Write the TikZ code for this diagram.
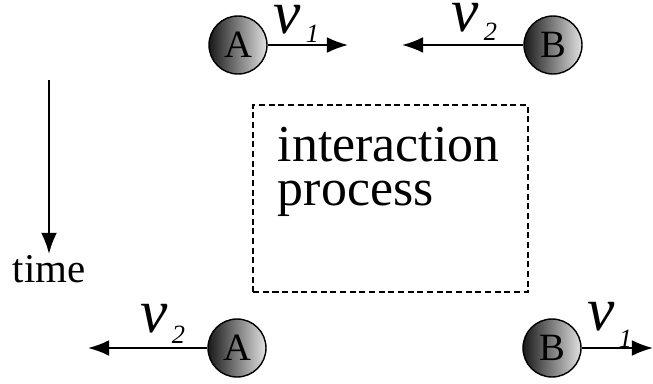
\documentclass[tikz,border=0pt]{standalone}
\usepackage{fontspec}
\setmainfont{Liberation Serif}
\usetikzlibrary{arrows.meta, positioning, calc}

\begin{document}
\begin{tikzpicture}[
    x=0.02cm, y=-0.02cm, >={Latex[length=12pt,width=9pt]}, line width=1.1pt,
    ball/.style={draw, circle, line width=0.8pt, minimum size=1.16cm, inner sep=0pt, left color=black!90, right color=white!88!black, font=\fontsize{22}{22}\selectfont},
    vsym/.style={anchor=base west, inner sep=0pt, font=\fontsize{35}{35}\selectfont\itshape},
    vsub/.style={anchor=base west, inner sep=0pt, font=\fontsize{15}{15}\selectfont\itshape},
    procbox/.style={draw, dash pattern=on 3.5pt off 2pt, line width=1pt, minimum width=5.5cm, minimum height=3.74cm}
]
    \useasboundingbox (0,0) rectangle (653,383);

    % Before the interaction
    \node[ball] (atop) at (238,45) {A};
    \node[ball] (btop) at (553,45) {B};
    \coordinate (atopend) at (348,45);
    \coordinate (btopend) at (402,45);
    \draw[->] (atop) -- (atopend);
    \draw[->] (btop) -- (btopend);
    \node[vsym] (vatop) at (273,33) {v};
    \node[vsub] (satop) at (305,42) {1};
    \node[vsym] (vbtop) at (451,31) {v};
    \node[vsub] (sbtop) at (483,40) {2};

    % Interaction process
    \node[procbox] (proc) at (390.5,198.5) {};
    \node[anchor=base west, align=left, inner sep=0pt, font=\fontsize{29.5}{24.5}\selectfont] (proctext) at (277,205) {interaction\\process};

    % Time direction
    \coordinate (timetop) at (49,80);
    \node[anchor=base, inner sep=0pt, font=\fontsize{23.3}{23.3}\selectfont] (timelbl) at (49,282) {time};
    \draw[->] (timetop) -- (timelbl.north);

    % After the interaction
    \node[ball] (abot) at (237,348) {A};
    \node[ball] (bbot) at (552,348) {B};
    \coordinate (abotend) at (88,348);
    \coordinate (bbotend) at (653,348);
    \draw[->] (abot) -- (abotend);
    \draw[->] (bbot) -- (bbotend);
    \node[vsym] (vabot) at (140,332) {v};
    \node[vsub] (sabot) at (171,343) {2};
    \node[vsym] (vbbot) at (587,330) {v};
    \node[vsub] (sbbot) at (618,347) {1};
\end{tikzpicture}
\end{document}
